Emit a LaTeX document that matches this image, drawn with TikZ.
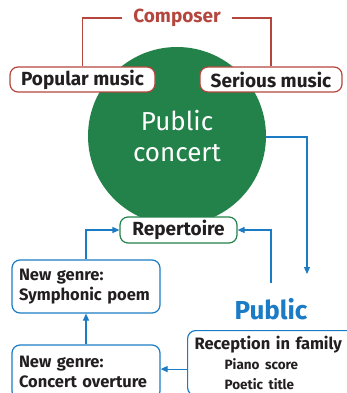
\documentclass[tikz,border=0pt]{standalone}
\usepackage{fontspec}
\setmainfont{Fira Sans}
\usetikzlibrary{arrows.meta}

\definecolor{concertgreen}{HTML}{23824A}
\definecolor{composerred}{HTML}{B4463E}
\definecolor{publicblue}{HTML}{1B7BC4}
\definecolor{textgray}{HTML}{231F20}

\tikzset{
    labelfont/.style={font=\bfseries\fontsize{19}{22}\selectfont},
    genrefont/.style={font=\bfseries\fontsize{16.5}{20}\selectfont},
    redbox/.style={draw=composerred, line width=1.2pt, rounded corners=8pt, fill=white,
        text=textgray, labelfont, minimum height=25pt, inner sep=2pt},
    greenbox/.style={draw=concertgreen, line width=1.2pt, rounded corners=8pt, fill=white,
        text=textgray, labelfont, minimum height=26pt, inner sep=2pt},
    bluebox/.style={draw=publicblue, line width=1.2pt, rounded corners=8pt, fill=white,
        text=textgray, genrefont, align=left, inner xsep=7pt},
    flow/.style={publicblue, line width=1.2pt, -{Triangle[length=7pt,width=6pt]}},
}

\begin{document}
\begin{tikzpicture}[x=1pt,y=-1pt]
    \useasboundingbox (0,0) rectangle (347,393);
    \clip (0,0) rectangle (347,393);

    % composer and the two kinds of music
    \node[circle, fill=concertgreen, minimum size=178pt, text=white, align=center,
        font=\fontsize{26}{31}\selectfont] (concert) at (177,136) {Public\\concert};

    \node[text=composerred, labelfont, inner xsep=11pt] (composer) at (177,18) {Composer};
    \node[redbox, minimum width=145pt] (popular) at (82.5,79.5) {Popular music};
    \node[redbox, minimum width=142pt] (serious) at (271,79.5) {Serious music};

    \draw[composerred, line width=1.2pt] (composer.west) -| (popular.north);
    \draw[composerred, line width=1.2pt] (composer.east) -| (serious.north);

    % repertoire and the public
    \node[greenbox, minimum width=117pt] (repertoire) at (178.5,230) {Repertoire};
    \node[text=publicblue, font=\bfseries\fontsize{26}{30}\selectfont] (public) at (271,309) {Public};

    \coordinate (publicin) at (307,274);
    \draw[flow] ([yshift=-1pt]concert.east) -| (publicin);
    \draw[flow] ([yshift=12pt]public.north) |- (repertoire.east);

    % new genres
    \node[bluebox, minimum width=148pt, minimum height=53pt, text width=134pt]
        (symphonic) at (86,286.5) {New genre:\\Symphonic poem};
    \node[bluebox, minimum width=148pt, minimum height=54pt, text width=134pt]
        (overture) at (86,372) {New genre:\\Concert overture};
    \node[bluebox, anchor=north west, minimum width=172pt, minimum height=65pt, text width=158pt,
        inner xsep=6pt, inner ysep=4pt] (reception) at (187,330)
        {Reception in family\\[0pt]
         {\fontsize{13.5}{19.5}\selectfont\hspace*{30pt}Piano score\\
          \hspace*{30pt}Poetic title}};

    \draw[flow] ([yshift=-6pt]reception.west) -- ([yshift=-6pt]reception.west -| overture.east);
    \draw[flow] (overture.north) -- (symphonic.south);
    \draw[flow] (symphonic.north) |- (repertoire.west);
\end{tikzpicture}
\end{document}
